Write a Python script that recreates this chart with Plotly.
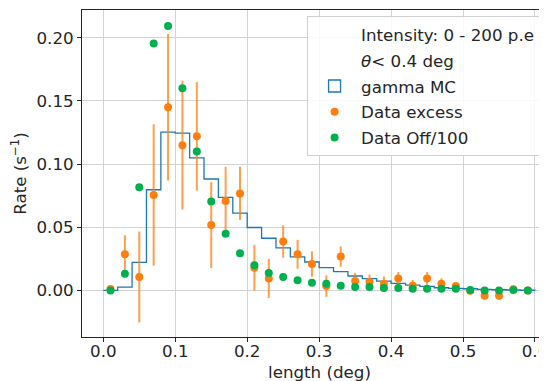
import plotly.graph_objects as go

# ---- data ----
bin_edges = [round(0.02 * i, 2) for i in range(31)]
bin_centers = [round(0.01 + 0.02 * i, 2) for i in range(30)]

gamma_mc = [0.0, 0.0026, 0.0222, 0.0797, 0.1253, 0.1245, 0.105, 0.0882, 0.0736, 0.0612,
            0.0498, 0.0413, 0.0337, 0.0265, 0.0225, 0.018, 0.0148, 0.0114, 0.0093, 0.0074,
            0.0056, 0.0042, 0.0032, 0.0021, 0.0016, 0.0013, 0.0008, 0.0005, 0.0003, 0.0001]

data_excess = [0.0012, 0.0286, 0.0106, 0.0755, 0.145, 0.115, 0.122, 0.0517, 0.0707, 0.0768,
               0.018, 0.0095, 0.0387, 0.0286, 0.0209, 0.0034, 0.0268, 0.0074, 0.0066, 0.0053,
               0.0095, 0.0037, 0.0095, 0.0053, 0.0034, -0.0003, -0.0042, -0.0042, 0.001, 0.0]
excess_err = [0.002, 0.015, 0.036, 0.056, 0.058, 0.051, 0.043, 0.034, 0.027, 0.021,
              0.018, 0.0155, 0.0128, 0.0114, 0.010, 0.0085, 0.008, 0.0064, 0.006, 0.0057,
              0.005, 0.0046, 0.005, 0.0042, 0.003, 0.003, 0.003, 0.003, 0.003, 0.002]

data_off = [0.0, 0.0132, 0.0816, 0.1955, 0.2093, 0.160, 0.110, 0.0704, 0.0448, 0.0294,
            0.0199, 0.0138, 0.0106, 0.008, 0.0061, 0.0053, 0.0037, 0.0026, 0.0026, 0.0019,
            0.0019, 0.0013, 0.0013, 0.0013, 0.0013, 0.0003, 0.0, 0.0, 0.0003, 0.0]
off_err = [0.0005] * 30

x_ticks = [0.0, 0.1, 0.2, 0.3, 0.4, 0.5, 0.6]
y_ticks = [0.0, 0.05, 0.10, 0.15, 0.20]

BLUE = "#1f77b4"
ORANGE = "#ff7f0e"
GREEN = "#00b04f"
TXT = "#262626"
FONT = "DejaVu Sans"
FS = 16.7

fig = go.Figure()

# text-only legend entries
fig.add_trace(go.Scatter(x=[None], y=[None], mode="lines", legendgroup="a",
                         line=dict(color="rgba(0,0,0,0)", width=0),
                         name="Intensity: 0 - 200 p.e"))
fig.add_trace(go.Scatter(x=[None], y=[None], mode="lines", legendgroup="b",
                         line=dict(color="rgba(0,0,0,0)", width=0),
                         name="<i>θ</i>< 0.4 deg"))

# step histogram (gamma MC)
step_y = gamma_mc + [0.0]
fig.add_trace(go.Scatter(x=bin_edges, y=step_y, mode="lines", line_shape="hv",
                         line=dict(color=BLUE, width=1.3), showlegend=False,
                         legendgroup="c", hoverinfo="skip"))
fig.add_trace(go.Bar(x=[None], y=[None], name="gamma MC", legendgroup="c",
                     marker=dict(color="rgba(0,0,0,0)", line=dict(color=BLUE, width=1.3))))

fig.add_trace(go.Scatter(x=bin_centers, y=data_excess, mode="markers", name="Data excess",
                         legendgroup="d",
                         marker=dict(color=ORANGE, size=8),
                         error_y=dict(type="data", array=excess_err, color="rgba(255,127,14,0.75)",
                                      thickness=2, width=0)))
fig.add_trace(go.Scatter(x=bin_centers, y=data_off, mode="markers", name="Data Off/100",
                         legendgroup="e",
                         marker=dict(color=GREEN, size=8),
                         error_y=dict(type="data", array=off_err, color=GREEN,
                                      thickness=2, width=0)))

# the page body has an 8px margin; the figure is sized so the visible window matches
fig.update_layout(
    width=539, height=373,
    margin=dict(l=74, r=0, t=2, b=44, autoexpand=False),
    plot_bgcolor="white", paper_bgcolor="white",
    font=dict(family=FONT, size=FS, color=TXT),
    showlegend=True,
    legend=dict(x=0.484, y=0.981, xanchor="left", yanchor="top",
                bgcolor="rgba(255,255,255,0.85)", bordercolor="#d0d0d0", borderwidth=1,
                font=dict(size=FS, family=FONT, color=TXT), itemwidth=43,
                traceorder="grouped", tracegroupgap=1),
    bargap=0,
    annotations=[dict(text="length (deg)", xref="paper", yref="paper", x=0.51, y=0,
                      xanchor="center", yanchor="middle", yshift=-35, showarrow=False,
                      font=dict(size=FS, family=FONT, color=TXT))],
)

fig.update_xaxes(range=[-0.0296, 0.6167], tickvals=x_ticks,
                 ticktext=[f"{v:.1f}" for v in x_ticks],
                 ticklabeloverflow="allow", automargin=False, ticklabelstandoff=-5,
                 showgrid=True, gridcolor="#d3d3d3", gridwidth=1,
                 showline=True, linecolor=TXT, linewidth=1, mirror=True,
                 ticks="outside", ticklen=4, tickcolor=TXT,
                 zeroline=False)
fig.update_yaxes(range=[-0.0369, 0.222], tickvals=y_ticks,
                 ticktext=[f"{v:.2f}" for v in y_ticks],
                 automargin=False,
                 showgrid=True, gridcolor="#d3d3d3", gridwidth=1,
                 showline=True, linecolor=TXT, linewidth=1,
                 ticks="outside", ticklen=4, tickcolor=TXT,
                 zeroline=False,
                 title=dict(text="Rate (s<sup>−1</sup>)", font=dict(size=FS), standoff=10))

fig.write_html("out.html")
